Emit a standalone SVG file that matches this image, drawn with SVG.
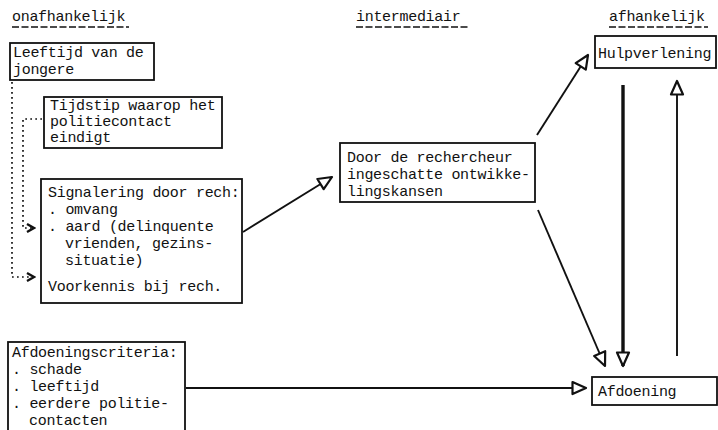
<svg xmlns="http://www.w3.org/2000/svg" width="718" height="430" viewBox="0 0 718 430">
<style>
text{font-family:"Liberation Mono","DejaVu Sans Mono",monospace;font-size:15px;letter-spacing:-0.3px;fill:#111}
.box{fill:#fff;stroke:#111;stroke-width:1.8}
.ul{stroke:#111;stroke-width:1.6;stroke-dasharray:7 2.5}
.con{fill:none;stroke:#111;stroke-width:1.9}
.thick{fill:none;stroke:#111;stroke-width:3.4}
.dot{fill:none;stroke:#111;stroke-width:1.7;stroke-dasharray:1.7 3.3}
</style>
<defs>
<marker id="tri" markerUnits="userSpaceOnUse" markerWidth="18" markerHeight="16" refX="15" refY="7" orient="auto" viewBox="0 0 18 14">
<path d="M1.5,1 L15,7 L1.5,13 Z" fill="#fff" stroke="#111" stroke-width="2.2" stroke-linejoin="round"/>
</marker>
<marker id="chev" markerUnits="userSpaceOnUse" markerWidth="10" markerHeight="12" refX="8" refY="6" orient="auto" viewBox="0 0 10 12">
<path d="M1,2 L8,6 L1,10" fill="none" stroke="#111" stroke-width="2.4"/>
</marker>
</defs>

<g id="headings">
<text x="12" y="21">onafhankelijk</text>
<line class="ul" x1="12" y1="27" x2="129" y2="27"/>
<text x="356" y="21">intermediair</text>
<line class="ul" x1="356" y1="27" x2="469" y2="27"/>
<text x="609" y="21">afhankelijk</text>
<line class="ul" x1="609" y1="27" x2="708" y2="27"/>
</g>

<g id="connectors">
<path class="dot" d="M12,82 V277 H34" marker-end="url(#chev)"/>
<path class="dot" d="M42,119 H23 V228 H34" marker-end="url(#chev)"/>
<line class="con" x1="243" y1="232" x2="332" y2="177" marker-end="url(#tri)"/>
<line class="con" x1="537" y1="135" x2="588" y2="55" marker-end="url(#tri)"/>
<line class="con" x1="538" y1="210" x2="605" y2="366" marker-end="url(#tri)"/>
<line class="thick" x1="623" y1="85" x2="623" y2="366" marker-end="url(#tri)"/>
<line class="con" x1="677" y1="356" x2="677" y2="81" marker-end="url(#tri)"/>
<line class="con" x1="186" y1="388" x2="586" y2="388" marker-end="url(#tri)"/>
</g>

<g id="leeftijd">
<rect class="box" x="10" y="43" width="144" height="37"/>
<text x="13" y="57">Leeftijd van de</text>
<text x="13" y="74">jongere</text>
</g>

<g id="tijdstip">
<rect class="box" x="44" y="97" width="178" height="51"/>
<text x="50" y="110">Tijdstip waarop het</text>
<text x="50" y="126">politiecontact</text>
<text x="50" y="142">eindigt</text>
</g>

<g id="signalering">
<rect class="box" x="41" y="179" width="201" height="124"/>
<text x="48" y="197">Signalering door rech:</text>
<text x="48" y="214">. omvang</text>
<text x="48" y="231">. aard (delinquente</text>
<text x="65" y="248">vrienden, gezins-</text>
<text x="65" y="265">situatie)</text>
<text x="48" y="291">Voorkennis bij rech.</text>
</g>

<g id="afdoeningscriteria">
<rect class="box" x="8" y="342" width="177" height="100"/>
<text x="12" y="357">Afdoeningscriteria:</text>
<text x="12" y="374">. schade</text>
<text x="12" y="391">. leeftijd</text>
<text x="12" y="408">. eerdere politie-</text>
<text x="29" y="425">contacten</text>
</g>

<g id="ontwikkelingskansen">
<rect class="box" x="340" y="143" width="195" height="59"/>
<text x="347" y="162">Door de rechercheur</text>
<text x="347" y="179">ingeschatte ontwikke-</text>
<text x="347" y="196">lingskansen</text>
</g>

<g id="hulpverlening">
<rect class="box" x="595" y="36" width="121" height="32"/>
<text x="598" y="58">Hulpverlening</text>
</g>

<g id="afdoening">
<rect class="box" x="592" y="377" width="125" height="28"/>
<text x="598" y="396">Afdoening</text>
</g>
</svg>
